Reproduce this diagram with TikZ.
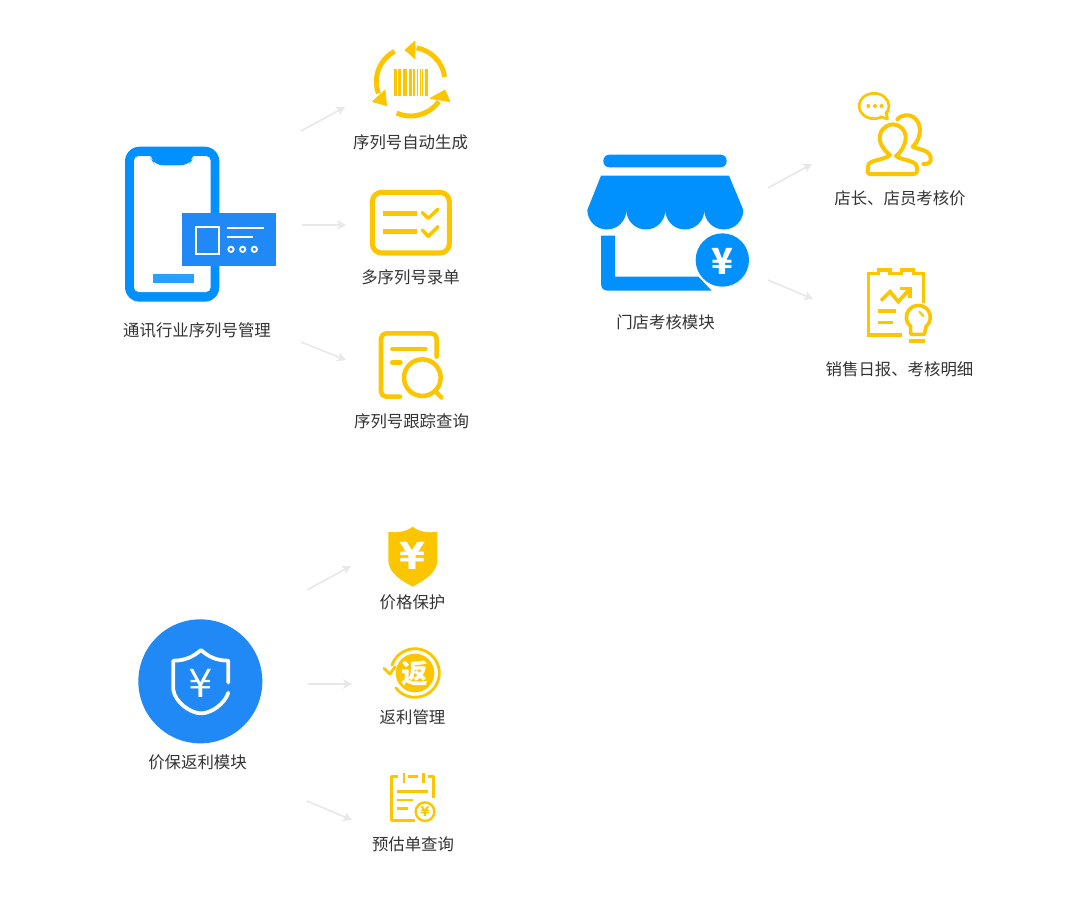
\documentclass[tikz,border=0pt]{standalone}
\usepackage{fontspec}
\setmainfont{Noto Sans CJK SC}
\newfontfamily\yenfont{DejaVu Sans}
\usetikzlibrary{arrows.meta}

\definecolor{blueicon}{HTML}{0091FF}
\definecolor{bluecard}{HTML}{2089F5}
\definecolor{goldicon}{HTML}{FBC600}
\definecolor{greyarrow}{HTML}{E8E8E8}
\definecolor{greytext}{HTML}{333333}

\tikzset{
    txt/.style={text=greytext, font=\fontsize{12.3pt}{14pt}\selectfont, inner sep=0pt},
    link/.style={draw=greyarrow, line width=1.25pt, -{Stealth[length=6.5pt,width=7pt,inset=1.5pt]}},
    gold/.style={draw=goldicon, line width=#1, line cap=round, line join=round},
    gold/.default=3pt,
    zoomA/.style={shift={(100,30)}, x=.25pt, y=-.25pt},
    zoomB/.style={shift={(570,80)}, x=.25pt, y=-.25pt},
    zoomC/.style={shift={(120,510)}, x=.25pt, y=-.25pt},
}

\begin{document}
\begin{tikzpicture}[x=.75pt, y=-.75pt]

    \useasboundingbox (0,0) rectangle (1080,900);

    % phone and serial card
    \begin{scope}[zoomA]
        \fill[blueicon, rounded corners=11pt] (75,350) rectangle (358,815);
        \fill[white, rounded corners=3.5pt] (102,378) rectangle (332,786);
        \fill[blueicon, rounded corners=6pt] (152,365) -- (152,385) -- (165,406) -- (265,406) -- (280,385) -- (280,365) -- cycle;
        \fill[blueicon!85!white] (159,733) rectangle (283,760);
        \fill[bluecard] (245,550) rectangle (529,709);
        \draw[white, line width=1.4pt] (287,590) rectangle (357,672);
        \draw[white, line width=1.4pt] (381,594) -- (491,594);
        \draw[white, line width=1.4pt] (381,622) -- (459,622);
        \foreach \cx in {393,428,463}
            \draw[white, line width=1.4pt] (\cx,658) circle (8);

        % barcode loop
        \foreach \bx/\bw in {882/9,893/10,909/11,927/8,938/7,950/5,960/3,967/3,975/8}
            \fill[goldicon] (\bx,118) rectangle ++(\bw,80);
        \draw[gold=3.7pt, line cap=butt] (932,155) ++(-8:103) arc[start angle=-8, end angle=-80, radius=103];
        \fill[goldicon, draw=goldicon, line join=round, line width=.5pt] (915,60) -- (945,33) -- (945,86) -- cycle;
        \draw[gold=3.7pt, line cap=butt] (932,155) ++(-118:103) arc[start angle=-118, end angle=-200, radius=103];
        \fill[goldicon, draw=goldicon, line join=round, line width=.5pt] (817,215) -- (860,227) -- (855,180) -- cycle;
        \draw[gold=3.7pt, line cap=butt] (932,155) ++(-246:103) arc[start angle=-246, end angle=-325, radius=103];
        \fill[goldicon, draw=goldicon, line join=round, line width=.5pt] (1050,215) -- (1035,180) -- (990,205) -- cycle;

        % checklist
        \draw[gold=3.8pt, rounded corners=7pt] (817,487) rectangle (1048,669);
        \draw[gold=3.8pt, line cap=butt] (848,551) -- (952,551);
        \draw[gold=3.8pt, line cap=butt] (848,605) -- (952,605);
        \draw[gold=2.6pt] (967,548) -- (985,565) -- (1014,537);
        \draw[gold=2.6pt] (967,600) -- (985,619) -- (1014,590);

        % search sheet
        \draw[gold=3.4pt, rounded corners=4pt] (900,1100) -- (843,1100) -- (843,910) -- (1010,910) -- (1010,980);
        \draw[gold=3.4pt] (877,957) -- (976,957);
        \draw[gold=3.4pt] (877,998) -- (901,998);
        \draw[gold=3.4pt] (967,1043) circle (55);
        \draw[gold=3.4pt] (1007,1085) -- (1024,1102);
    \end{scope}

    % store
    \begin{scope}[zoomB]
        \fill[blueicon, rounded corners=4.5pt] (100,224) rectangle (470,262);
        \fill[blueicon] (93,287) -- (477,287) -- (520,390)
            arc[start angle=0, end angle=180, radius=58.5]
            arc[start angle=0, end angle=180, radius=58.5]
            arc[start angle=0, end angle=180, radius=58.5]
            arc[start angle=0, end angle=180, radius=58.5] -- cycle;
        \fill[blueicon] (93,467) -- (135,467) -- (135,590) -- (385,590) -- (425,632) -- (115,632)
            .. controls (100,632) and (93,625) .. (93,610) -- cycle;
        \fill[blueicon] (457,540) circle (80);
        \node[text=white, font=\fontsize{27pt}{27pt}\selectfont\bfseries, inner sep=0pt] (storeyen) at (457,545) {¥};

        % staff rating
        \draw[gold=2pt] (912,78) ellipse (45 and 38);
        \fill[white] (925,105) -- (945,100) -- (945,112) -- cycle;
        \draw[gold=2pt] (932,110) -- (952,117) -- (950,95);
        \foreach \cx in {895,915,935}
            \fill[goldicon] (\cx,78) circle (6);
        \draw[gold=3pt] (900,282) .. controls (890,282) and (893,270) .. (895,255)
            .. controls (897,240) and (945,240) .. (960,225)
            .. controls (935,205) and (925,180) .. (930,165)
            .. controls (935,140) and (960,133) .. (968,133)
            .. controls (985,133) and (1005,145) .. (1007,170)
            .. controls (1008,190) and (995,215) .. (978,228)
            .. controls (990,240) and (1035,240) .. (1040,258)
            .. controls (1043,275) and (1040,282) .. (1030,282) -- cycle;
        \draw[gold=3pt] (982,118) .. controls (995,100) and (1045,95) .. (1050,150)
            .. controls (1050,170) and (1040,190) .. (1028,200)
            .. controls (1050,210) and (1078,210) .. (1082,232)
            .. controls (1084,250) and (1075,252) .. (1060,252);

        % daily report
        \draw[gold=2.7pt, line cap=butt, line join=miter] (995,765) -- (895,765) -- (895,580) -- (925,580) -- (925,570) -- (960,570) -- (960,580) -- (995,580) -- (995,570) -- (1030,570) -- (1030,580) -- (1060,580) -- (1060,670);
        \draw[gold=2.7pt, line cap=butt, line join=miter] (933,662) -- (960,635) -- (985,665) -- (1018,628);
        \draw[gold=2.7pt, line cap=butt, line join=miter] (990,626) -- (1020,626) -- (1020,655);
        \draw[gold=2.7pt, line cap=butt] (925,693) -- (978,693);
        \draw[gold=2.7pt, line cap=butt] (925,728) -- (968,728);
        \draw[gold=2.7pt] (1045,712) ++(130:36) arc[start angle=130, end angle=410, radius=36] -- (1063,763) -- (1022,763) -- cycle;
        \draw[gold=2.7pt, line cap=butt] (1018,783) -- (1066,783);
        \draw[gold=1.6pt] (1048,695) -- (1060,708);
    \end{scope}

    % price protection
    \begin{scope}[zoomC]
        \fill[bluecard] (241,514) circle (186);
        \draw[white, line width=2.8pt, line cap=round, line join=round] (325,518) -- (325,452)
            .. controls (290,452) and (265,440) .. (243,420)
            .. controls (220,440) and (195,452) .. (160,452) -- (160,540)
            .. controls (165,575) and (210,610) .. (243,610)
            .. controls (275,610) and (315,580) .. (325,548);
        \node[text=white, font=\yenfont\fontsize{29pt}{29pt}\selectfont, inner sep=0pt] (shieldyen) at (243,521) {¥};

        \fill[goldicon] (805,65) .. controls (830,70) and (860,65) .. (878,50)
            .. controls (895,65) and (925,70) .. (952,65) -- (952,150)
            .. controls (952,190) and (910,212) .. (878,230)
            .. controls (845,212) and (805,190) .. (805,150) -- cycle;
        \node[text=white, font=\yenfont\fontsize{28pt}{28pt}\selectfont\bfseries, inner sep=0pt] (goldyen) at (878,138) {¥};

        \draw[gold=2.1pt] (885,489) ++(142:73) arc[start angle=142, end angle=-161, radius=73];
        \draw[gold=2.1pt] (792,475) -- (810,492) -- (825,470);
        \fill[goldicon] (885,489) circle (58);
        \node[text=white, font=\fontsize{20pt}{20pt}\selectfont\bfseries, inner sep=0pt] (fanchar) at (885,491) {返};

        \draw[gold=1.8pt, line cap=butt] (885,932) -- (815,932) -- (815,800) -- (835,800);
        \draw[gold=1.8pt, line cap=butt] (865,800) -- (895,800);
        \draw[gold=1.8pt, line cap=butt] (925,800) -- (940,800) -- (940,865);
        \draw[gold=1.8pt, line cap=butt] (852,788) -- (852,820);
        \draw[gold=1.8pt, line cap=butt] (910,788) -- (910,820);
        \draw[gold=1.8pt, line cap=butt] (830,845) -- (925,845);
        \draw[gold=1.8pt, line cap=butt] (830,870) -- (880,870);
        \draw[gold=1.8pt, line cap=butt] (830,895) -- (865,895);
        \draw[gold=1.8pt] (915,905) circle (28);
        \node[text=goldicon, font=\yenfont\fontsize{10pt}{10pt}\selectfont\bfseries, inner sep=0pt] (receiptyen) at (915,905) {¥};
    \end{scope}

    % labels
    \node[txt] (phonetxt) at (197,330) {通讯行业序列号管理};
    \node[txt] (autotxt) at (410.5,142) {序列号自动生成};
    \node[txt] (multitxt) at (410.5,277) {多序列号录单};
    \node[txt] (tracktxt) at (411.5,421) {序列号跟踪查询};
    \node[txt] (storetxt) at (665.5,322) {门店考核模块};
    \node[txt] (stafftxt) at (900,198) {店长、店员考核价};
    \node[txt] (dailytxt) at (899.5,369) {销售日报、考核明细};
    \node[txt] (rebatetxt) at (197.5,762) {价保返利模块};
    \node[txt] (pricetxt) at (412.5,602) {价格保护};
    \node[txt] (returntxt) at (412.5,717) {返利管理};
    \node[txt] (estimatetxt) at (413,844) {预估单查询};

    % connector ends
    \coordinate (a0) at (301,131);
    \coordinate (a1) at (345,107);
    \coordinate (b0) at (302,225);
    \coordinate (b1) at (346,225);
    \coordinate (c0) at (301,342);
    \coordinate (c1) at (346,360);
    \coordinate (d0) at (768,188);
    \coordinate (d1) at (812,164);
    \coordinate (e0) at (768,280);
    \coordinate (e1) at (813,299);
    \coordinate (f0) at (307,590);
    \coordinate (f1) at (351,566);
    \coordinate (g0) at (308,684);
    \coordinate (g1) at (352,684);
    \coordinate (h0) at (307,801);
    \coordinate (h1) at (352,820);

    \foreach \p in {a,b,c,d,e,f,g,h}
        \draw[link] (\p0) -- (\p1);

\end{tikzpicture}
\end{document}
